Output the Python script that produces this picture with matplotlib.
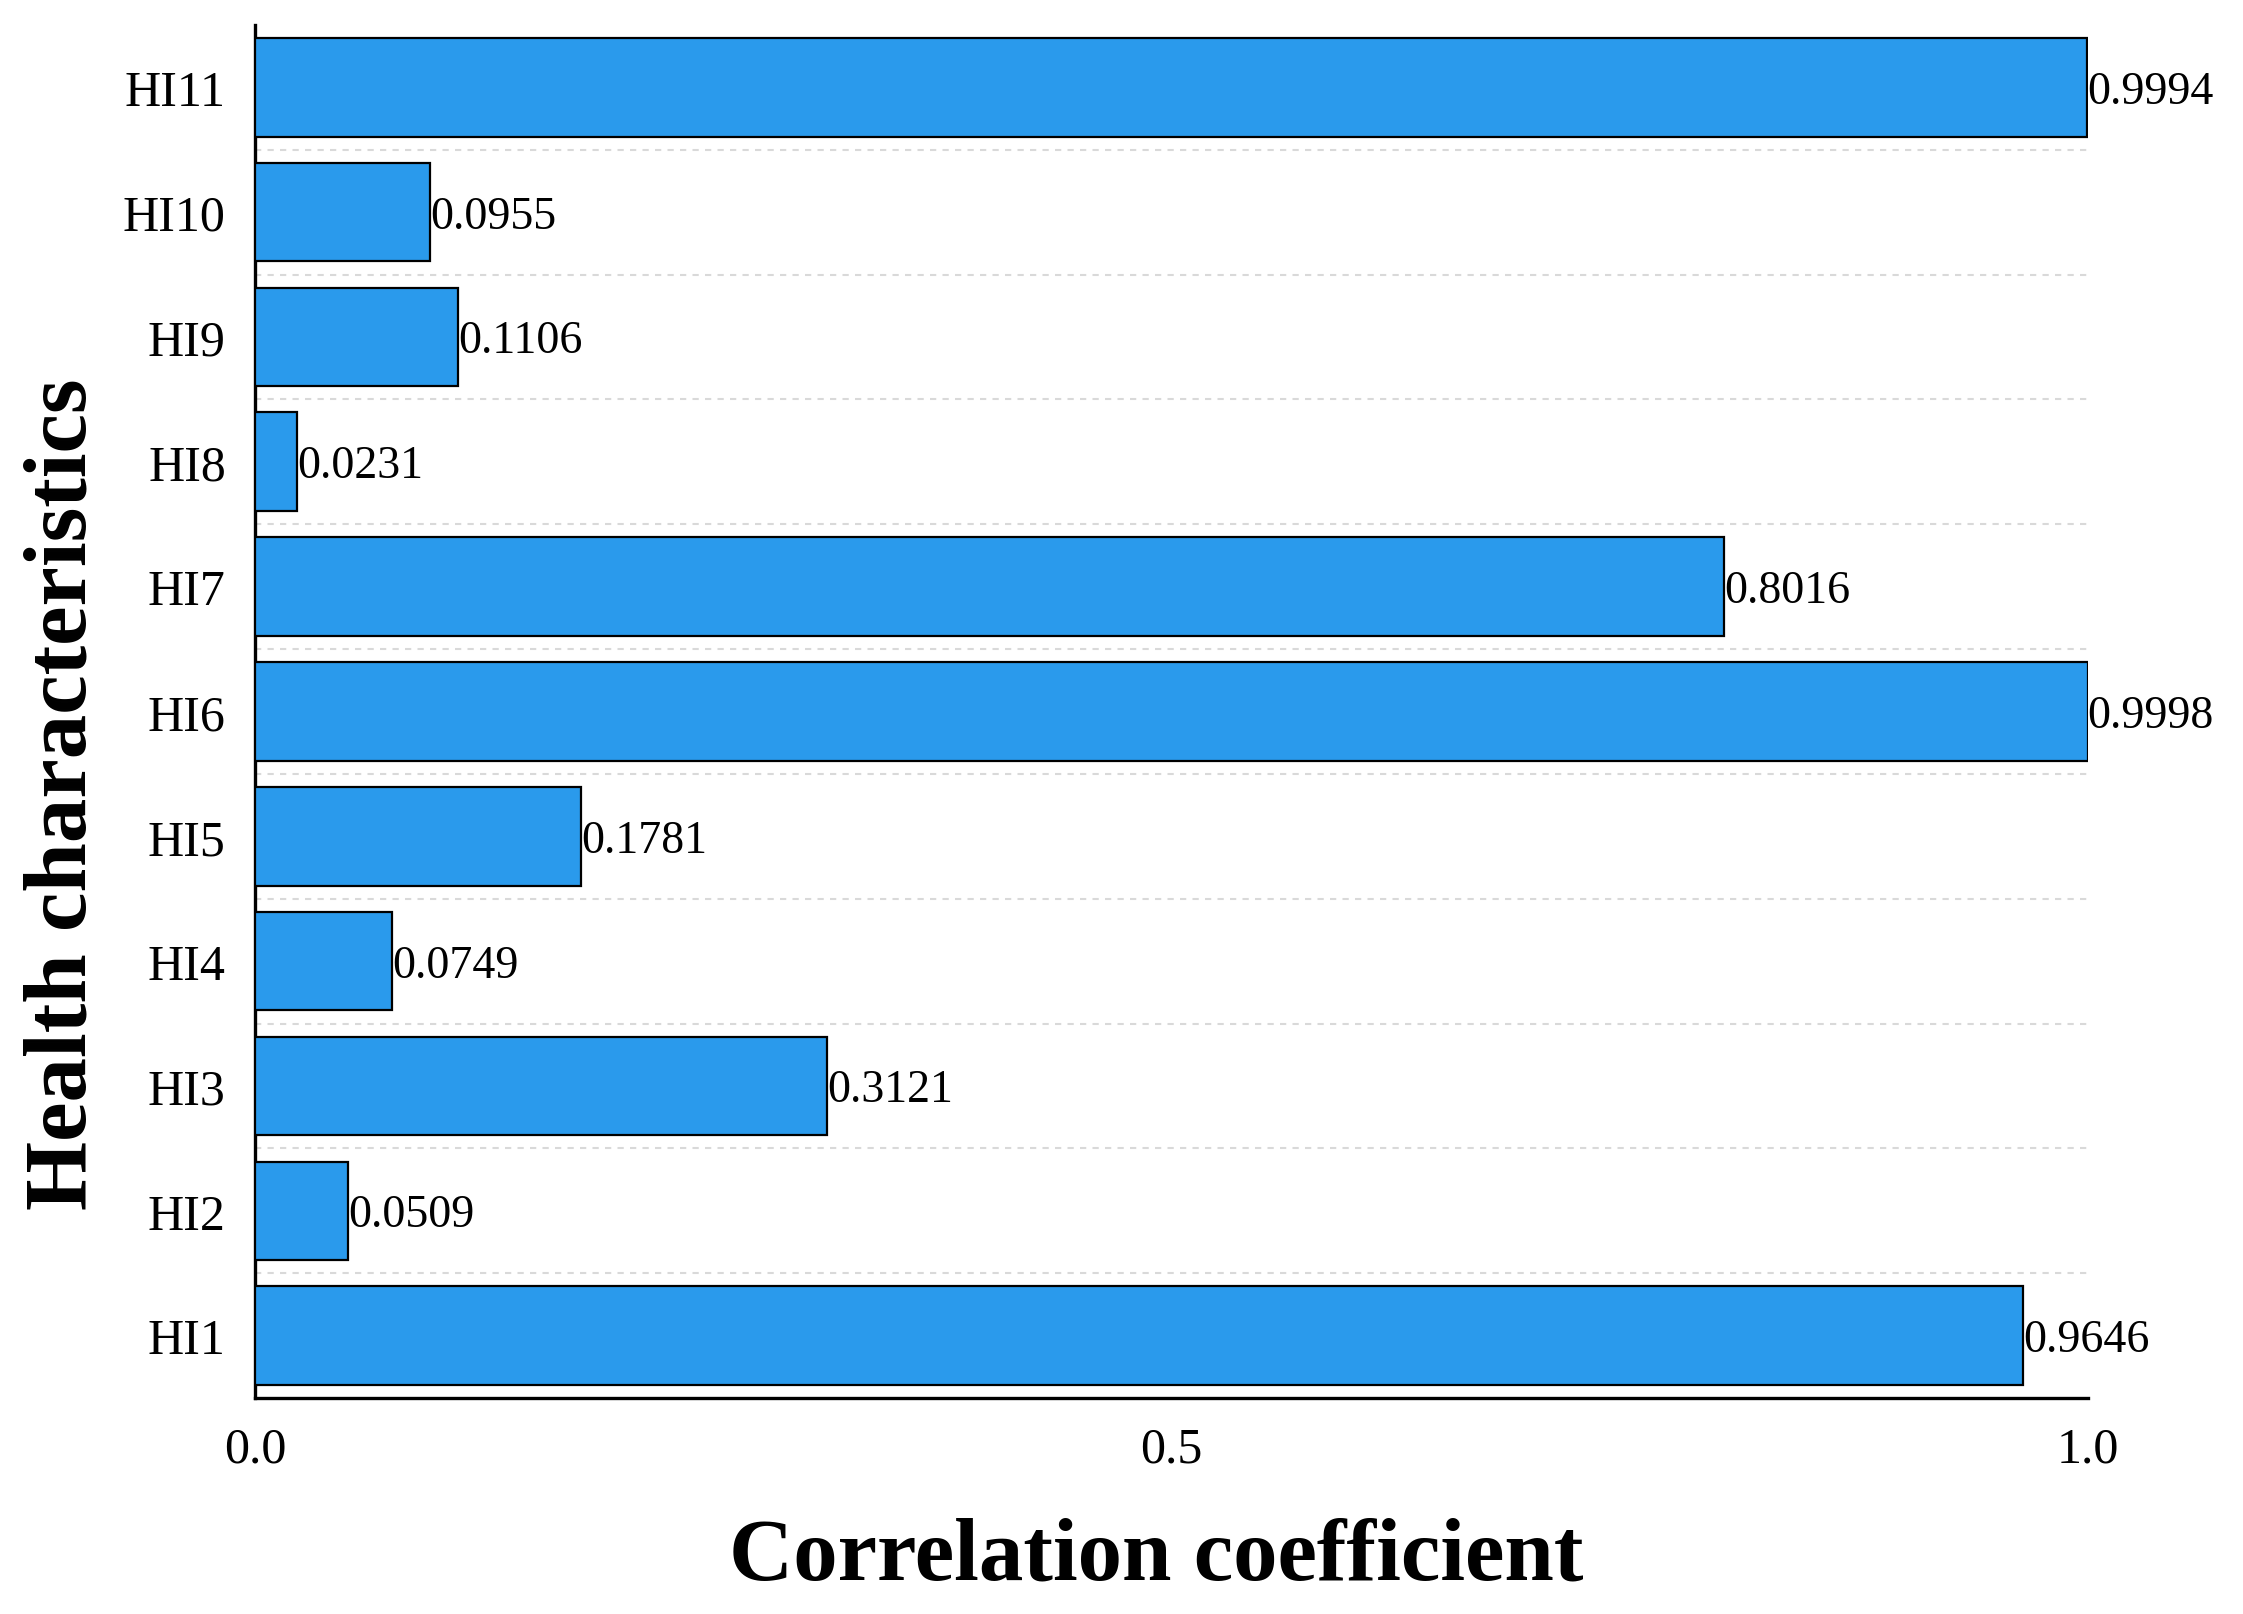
import matplotlib
matplotlib.use("Agg")
import matplotlib.pyplot as plt

categories = ["HI1", "HI2", "HI3", "HI4", "HI5", "HI6", "HI7", "HI8", "HI9", "HI10", "HI11"]
values = [0.9646, 0.0509, 0.3121, 0.0749, 0.1781, 0.9998, 0.8016, 0.0231, 0.1106, 0.0955, 0.9994]
xticks = [0.0, 0.5, 1.0]
xticklabels = ["0.0", "0.5", "1.0"]

plt.rcParams['font.family'] = ['Liberation Serif', 'DejaVu Serif']

fig = plt.figure(figsize=(22.43, 16.15), dpi=100)
ax = fig.add_axes([0.1137, 0.1337, 0.9309 - 0.1137, 0.984 - 0.1337])

ypos = list(range(len(categories)))
ax.barh(ypos, values, height=0.79, color="#2A9AEC", edgecolor="black", linewidth=1.6, zorder=3)

# dashed separators between bars
ax.hlines([i + 0.5 for i in range(len(categories) - 1)], 0, 1.0,
          colors="#d9d9d9", linestyles=(0, (3, 3)), linewidth=1.5, zorder=1)

for y, v in zip(ypos, values):
    ax.annotate(f"{v:.4f}", xy=(v, y), xytext=(0, -3), textcoords="offset points",
                ha="left", va="center", fontsize=33, zorder=4)

ax.set_xlim(0, 1.0)
ax.set_ylim(-0.5, 10.5)
ax.set_yticks(ypos)
ax.set_yticklabels(categories, fontsize=36)
ax.set_xticks(xticks)
ax.set_xticklabels(xticklabels, fontsize=36)
ax.tick_params(axis="both", length=0)
ax.tick_params(axis="y", pad=21)
ax.tick_params(axis="x", pad=20)

for s in ["top", "right"]:
    ax.spines[s].set_visible(False)
for s in ["left", "bottom"]:
    ax.spines[s].set_linewidth(2.4)
    ax.spines[s].set_color("black")

ax.set_ylabel("Health characteristics", fontsize=64, fontweight="bold")
ax.set_xlabel("Correlation coefficient", fontsize=64, fontweight="bold")
ax.yaxis.set_label_coords(-0.104, 0.4406)
ax.yaxis.label.set_va("center")
ax.xaxis.set_label_coords(0.4915, -0.116)
ax.xaxis.label.set_va("center")

fig.savefig("out.png", dpi=100)
